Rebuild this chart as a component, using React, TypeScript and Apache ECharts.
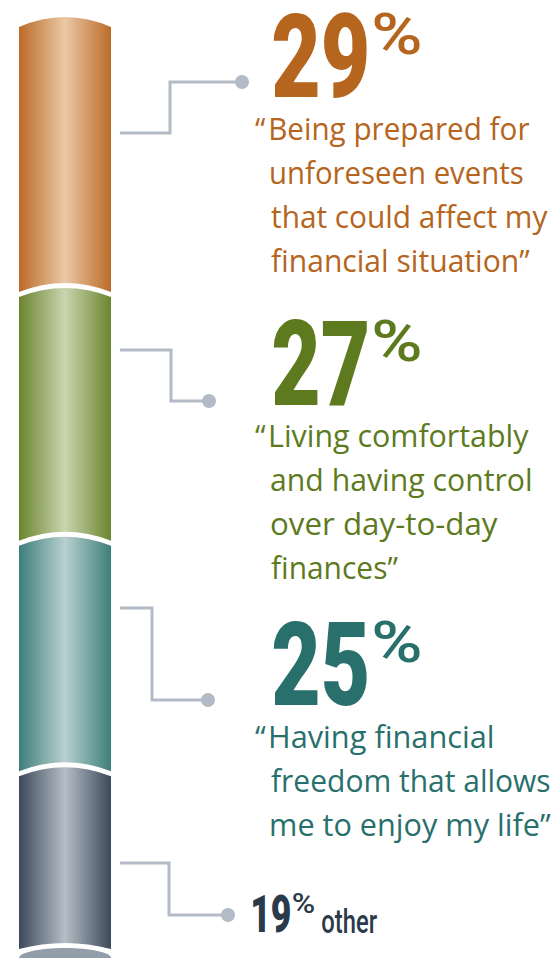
import React, { useEffect, useRef } from 'react';
import * as echarts from 'echarts';

// ---------- data ----------
const categories = ['Being prepared', 'Living comfortably', 'Financial freedom', 'Other'];
const shares = [29, 27, 25, 19];
const shareLabels = ['29', '27', '25', '19'];
const percentSign = '%';
const quoteLines1 = ['Being prepared for', 'unforeseen events', 'that could affect my', 'financial situation\u201D'];
const quoteLines2 = ['Living comfortably', 'and having control', 'over day-to-day', 'finances\u201D'];
const quoteLines3 = ['Having financial', 'freedom that allows', 'me to enjoy my life\u201D'];
const otherLabel = 'other';
const openQuote = '\u201C';

// ---------- styles ----------
const edgeColors = ['#BC6B29', '#6B852F', '#3E7F7B', '#3C4959'];
const lightColors = ['#EAC8A5', '#CAD5AF', '#B8D0D0', '#B6BEC7'];
const textColors = ['#B5651D', '#5E7A1E', '#29706C', '#2A3A4A'];
const connectorColor = '#B3BBC7';
const capColor = '#939EAA';

// layout (pixels)
const connectorPaths = [
  [[120, 133], [170, 133], [170, 82], [242, 82]],
  [[120, 350], [171, 350], [171, 401], [209, 401]],
  [[120, 608], [152, 608], [152, 700], [208, 700]],
  [[120, 863], [169, 863], [169, 915], [228, 915]],
];
// big number boxes: [left, right, top, bottom]
const numberBoxes = [
  [273, 367, 13, 98],
  [273, 367, 320, 405],
  [273, 367, 621, 706],
  [253, 290, 895, 933],
];
const percentBoxes = [
  [374, 420, 12, 55],
  [374, 420, 319, 362],
  [374, 420, 620, 663],
  [293, 314, 893, 913],
];
const otherBox = [322, 377, 908, 933];
const quoteBlocks = [
  { lines: quoteLines1, baselines: [140, 184, 228, 272], rights: [530, 523, 548, 530] },
  { lines: quoteLines2, baselines: [447, 491, 535, 579], rights: [529, 531, 498, 398] },
  { lines: quoteLines3, baselines: [748, 792, 836], rights: [493, 550, 551] },
];
const BODY_LEFT = 271;
const QUOTE_LEFT = 255;

const BIG_FONT = '900 100px Roboto';
const PCT_FONT = '500 100px Roboto';
const BODY_FONT = '400 31px "Open Sans"';
const OTHER_FONT = '500 34px Roboto';

let measureCtx: CanvasRenderingContext2D | null = null;
function measure(text: string, font: string) {
  if (!measureCtx) measureCtx = document.createElement('canvas').getContext('2d');
  const ctx = measureCtx as CanvasRenderingContext2D;
  ctx.font = font;
  const m = ctx.measureText(text);
  return {
    left: m.actualBoundingBoxLeft,
    right: m.actualBoundingBoxRight,
    ascent: m.actualBoundingBoxAscent,
    descent: m.actualBoundingBoxDescent,
    fA: m.fontBoundingBoxAscent,
    fD: m.fontBoundingBoxDescent,
  };
}

function makeText(text: string, font: string, fill: string, sx: number, sy: number, originX: number, baseline: number, m: any, lineHeight?: number) {
  const c = (m.fA - m.fD) / 2;
  const style: any = {
    text,
    x: 0,
    y: -c,
    font,
    fill,
    textAlign: 'left',
    textVerticalAlign: 'middle',
    align: 'left',
    verticalAlign: 'middle',
  };
  if (lineHeight) style.lineHeight = lineHeight;
  return {
    type: 'text',
    x: originX,
    y: baseline,
    scaleX: sx,
    scaleY: sy,
    silent: true,
    style,
  };
}

// fit ink box fully
function fitBox(text: string, font: string, fill: string, box: number[]) {
  const [l, r, t, b] = box;
  const m = measure(text, font);
  const sx = (r - l) / (m.left + m.right);
  const sy = (b - t) / (m.ascent + m.descent);
  const baseline = b - m.descent * sy;
  return makeText(text, font, fill, sx, sy, l + m.left * sx, baseline, m, Math.round((m.ascent + m.descent) * 1.05));
}

// fit width only
function fitWidth(text: string, font: string, fill: string, left: number, right: number, baseline: number) {
  const m = measure(text, font);
  const sx = (right - left) / (m.left + m.right);
  return makeText(text, font, fill, sx, 1, left + m.left * sx, baseline, m);
}

export default function App() {
  const ref = useRef<HTMLDivElement>(null);
  useEffect(() => {
    if (!ref.current) return;
    const chart = echarts.init(ref.current, undefined, { renderer: 'svg' });

    const cum: number[] = [0];
    shares.forEach((v, i) => cum.push(cum[i] + v));
    const segData = shares.map((v, i) => [cum[i], cum[i + 1], i]);

    const graphics: any[] = [];
    connectorPaths.forEach((pts) => {
      graphics.push({
        type: 'polyline',
        silent: true,
        shape: { points: pts },
        style: { stroke: connectorColor, lineWidth: 3, fill: null, lineJoin: 'miter' },
      });
      const end = pts[pts.length - 1];
      graphics.push({
        type: 'circle',
        silent: true,
        shape: { cx: end[0], cy: end[1], r: 7 },
        style: { fill: connectorColor },
      });
    });

    shareLabels.forEach((lab, i) => {
      graphics.push(fitBox(lab, BIG_FONT, textColors[i], numberBoxes[i]));
      graphics.push(fitBox(percentSign, PCT_FONT, textColors[i], percentBoxes[i]));
    });
    graphics.push(fitBox(otherLabel, OTHER_FONT, textColors[3], otherBox));

    quoteBlocks.forEach((blk, bi) => {
      const mq = measure(openQuote, BODY_FONT);
      const m0 = measure(blk.lines[0], BODY_FONT);
      const sx0 = (blk.rights[0] - BODY_LEFT) / (m0.left + m0.right);
      graphics.push(makeText(openQuote, BODY_FONT, textColors[bi], sx0, 1, QUOTE_LEFT + mq.left * sx0, blk.baselines[0], mq));
      blk.lines.forEach((ln, li) => {
        graphics.push(fitWidth(ln, BODY_FONT, textColors[bi], BODY_LEFT, blk.rights[li], blk.baselines[li]));
      });
    });

    const option: any = {
      animation: false,
      backgroundColor: '#ffffff',
      grid: { left: 19, width: 92, top: 27, bottom: 9 },
      xAxis: { type: 'value', min: 0, max: 1, show: false },
      yAxis: { type: 'value', min: 0, max: 100, inverse: true, show: false },
      graphic: graphics,
      series: [
        {
          type: 'custom',
          name: 'Top priority',
          coordinateSystem: 'cartesian2d',
          silent: true,
          data: segData,
          encode: { x: -1, y: [0, 1] },
          renderItem: (params: any, api: any) => {
            const idx = params.dataIndex;
            const start = api.value(0);
            const end = api.value(1);
            const p0 = api.coord([0, start]);
            const p1 = api.coord([1, end]);
            const xl = p0[0];
            const xr = p1[0];
            const yTop = p0[1];
            const yBot = p1[1];
            const n = shares.length;
            const gap = 2.5;
            const yt = idx === 0 ? yTop : yTop + gap;
            const yb = idx === n - 1 ? yBot : yBot - gap;
            const bt = idx === 0 ? 10 : 9;
            const bb = idx === n - 1 ? 6 : 9;
            const xc = (xl + xr) / 2;
            const d = `M${xl} ${yt} Q${xc} ${yt - 2 * bt} ${xr} ${yt} L${xr} ${yb} Q${xc} ${yb - 2 * bb} ${xl} ${yb} Z`;
            const children: any[] = [
              {
                type: 'path',
                shape: { pathData: d },
                style: {
                  fill: new echarts.graphic.LinearGradient(0, 0, 1, 0, [
                    { offset: 0, color: edgeColors[idx] },
                    { offset: 0.5, color: lightColors[idx] },
                    { offset: 1, color: edgeColors[idx] },
                  ]),
                },
              },
            ];
            if (idx === n - 1) {
              children.push({
                type: 'ellipse',
                shape: { cx: xc, cy: yBot + 9, rx: (xr - xl) / 2, ry: 10 },
                style: { fill: capColor },
              });
            }
            return { type: 'group', children };
          },
        },
      ],
    };
    chart.setOption(option);
    return () => chart.dispose();
  }, []);
  return (
    <div
      ref={ref}
      style={{ position: 'absolute', left: 0, top: 0, width: 555, height: 958, background: '#fff' }}
      aria-label={categories.join(', ')}
    />
  );
}
